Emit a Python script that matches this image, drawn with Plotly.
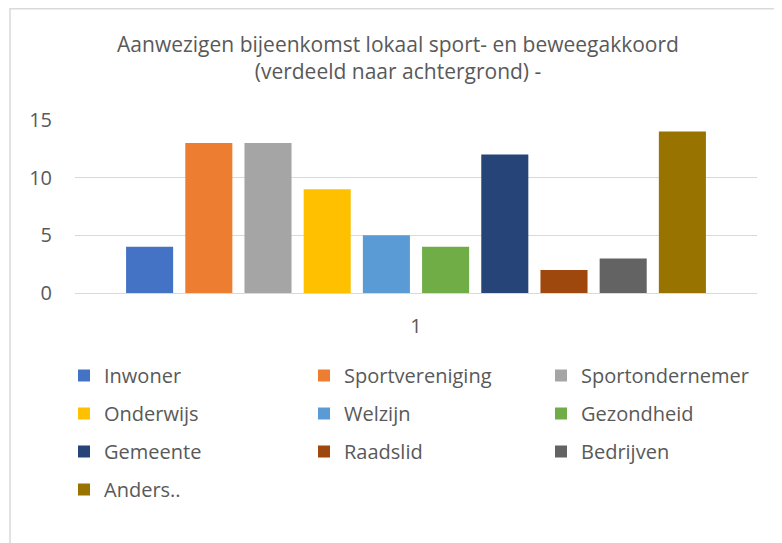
import plotly.graph_objects as go

categories = ["1"]
series_names = ["Inwoner", "Sportvereniging", "Sportondernemer", "Onderwijs", "Welzijn",
                "Gezondheid", "Gemeente", "Raadslid", "Bedrijven", "Anders.."]
series_values = [4, 13, 13, 9, 5, 4, 12, 2, 3, 14]
series_colors = ["#4472C4", "#ED7D31", "#A5A5A5", "#FFC000", "#5B9BD5",
                 "#70AD47", "#264478", "#9E480E", "#636363", "#997300"]
y_ticks = [0, 5, 10, 15]
title_text = "Aanwezigen bijeenkomst lokaal sport- en beweegakkoord<br>(verdeeld naar achtergrond) -"

FONT = "Open Sans"
TXT = "#595959"
GRID = "#D9D9D9"

# page body adds an 8px offset; figure coordinates are screen - 8
W, H = 774, 535
L, T = 67, 112
PW, PH = 682, 173
R, B = W - L - PW, H - T - PH


def px_x(px):
    return (px - L) / PW


def px_y(py):
    return (H - B - py) / PH


legend_ids = ["legend", "legend2", "legend3"]

fig = go.Figure()
for i, (name, val, col) in enumerate(zip(series_names, series_values, series_colors)):
    fig.add_trace(go.Bar(
        x=categories, y=[val], name=name,
        marker=dict(color=col, line=dict(width=0)),
        legend=legend_ids[i % 3],
        legendgroup=name,
        hoverinfo="name+y",
    ))

legend_common = dict(
    orientation="v", xanchor="left", yanchor="top",
    font=dict(family=FONT, size=20, color=TXT),
    bgcolor="rgba(0,0,0,0)", borderwidth=0,
    tracegroupgap=9, traceorder="grouped",
)
legend_y = px_y(348)

fig.update_layout(
    width=W, height=H,
    margin=dict(l=L, r=R, t=T, b=B, pad=0),
    paper_bgcolor="white", plot_bgcolor="white",
    font=dict(family=FONT, color=TXT),
    title=dict(text=title_text, x=390 / W, xref="container", xanchor="center",
               y=1 - 44 / H, yref="container", yanchor="top",
               font=dict(family=FONT, size=21, color=TXT)),
    barmode="group", bargap=0.132, bargroupgap=0.205,
    showlegend=True,
    legend=dict(x=px_x(56), y=legend_y, **legend_common),
    legend2=dict(x=px_x(296), y=legend_y, **legend_common),
    legend3=dict(x=px_x(533), y=legend_y, **legend_common),
    xaxis=dict(type="category", showgrid=False, zeroline=False, showline=False,
               ticks="", tickfont=dict(family=FONT, size=20, color=TXT),
               ticklabelstandoff=19),
    yaxis=dict(range=[0, 15], tickvals=y_ticks, showgrid=True, gridcolor=GRID,
               gridwidth=1.3, zeroline=True, zerolinecolor=GRID, zerolinewidth=1.3,
               showline=False, ticks="", tickfont=dict(family=FONT, size=20, color=TXT),
               ticklabelstandoff=22),
    shapes=[dict(type="rect", xref="paper", yref="paper",
                 x0=px_x(2), x1=px_x(900), y0=px_y(700), y1=px_y(0.75),
                 line=dict(color=GRID, width=1.5), fillcolor="rgba(0,0,0,0)",
                 layer="below")],
)

fig.write_html("out.html")
